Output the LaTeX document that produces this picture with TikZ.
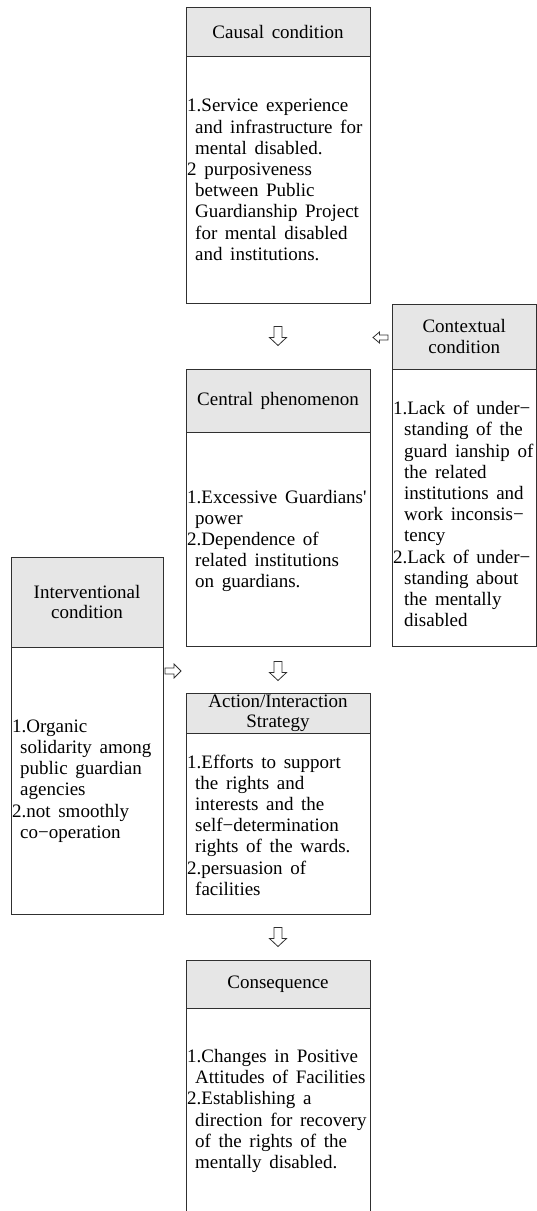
\documentclass[tikz,border=0pt]{standalone}
\usepackage{fontspec}
\setmainfont{Liberation Serif}[WordSpace=1.6]
\definecolor{boxc}{HTML}{303030}
\definecolor{hdrc}{HTML}{E6E6E6}
\newcommand{\ind}{\hspace*{8pt}}
\newcommand{\indw}{\hspace*{11pt}}
\begin{document}
\begin{tikzpicture}[x=1pt,y=-1pt,
  font=\fontsize{19}{21.2}\selectfont,
  hdr/.style={draw=boxc, fill=hdrc, line width=1pt, inner sep=0pt, align=center,
    font=\fontsize{19}{20.5}\selectfont},
  bodybox/.style={draw=boxc, line width=1pt, inner sep=0pt},
  txt/.style={inner sep=1pt, align=left, anchor=west},
  arrline/.style={draw=boxc, line width=0.8pt, fill=white, line join=miter},
  downarrow/.pic={\path[arrline] (-4,-9.5) -- (4,-9.5) -- (4,1.5) -- (8.5,1.5) -- (0,9.5) -- (-8.5,1.5) -- (-4,1.5) -- cycle;},
  leftarrow/.pic={\path[arrline] (7.5,-2.5) -- (7.5,2.5) -- (-1,2.5) -- (-1,5.5) -- (-7.5,0) -- (-1,-5.5) -- (-1,-2.5) -- cycle;},
  rightarrow/.pic={\path[arrline] (-8,-3) -- (-8,3) -- (1,3) -- (1,7) -- (8,0) -- (1,-7) -- (1,-3) -- cycle;}
]
\useasboundingbox (0,0) rectangle (537,1211);

% Causal condition
\node[hdr, minimum width=184pt, minimum height=49pt] (causalH) at (278,31.5) {Causal condition};
\node[bodybox, minimum width=184pt, minimum height=247pt] (causalB) at (278,179.5) {};
\node[txt] (causalT) at (186,180) {1.Service experience\\
\ind and infrastructure for\\
\ind mental disabled.\\
2 purposiveness\\
\ind between Public\\
\ind Guardianship Project\\
\ind for mental disabled\\
\ind and institutions.};

% Contextual condition
\node[hdr, minimum width=144.5pt, minimum height=65pt] (contextH) at (464.25,336.5) {Contextual\\condition};
\node[bodybox, minimum width=144.5pt, minimum height=277pt] (contextB) at (464.25,507.5) {};
\node[txt] (contextT) at (392,514) {1.Lack of under−\\
\indw standing of the\\
\indw guard ianship of\\
\indw the related\\
\indw institutions and\\
\indw work inconsis−\\
\indw tency\\
2.Lack of under−\\
\indw standing about\\
\indw the mentally\\
\indw disabled};

% Central phenomenon
\node[hdr, minimum width=184pt, minimum height=63pt] (centralH) at (278,400.5) {Central phenomenon};
\node[bodybox, minimum width=184pt, minimum height=214pt] (centralB) at (278,539) {};
\node[txt] (centralT) at (186,541) {1.Excessive Guardians\textquotesingle\\
\ind power\\
2.Dependence of\\
\ind related institutions\\
\ind on guardians.};

% Interventional condition
\node[hdr, minimum width=152pt, minimum height=90pt] (interH) at (87,602) {Interventional\\condition};
\node[bodybox, minimum width=152pt, minimum height=267pt] (interB) at (87,780.5) {};
\node[txt] (interT) at (11,781) {1.Organic\\
\ind solidarity among\\
\ind public guardian\\
\ind agencies\\
2.not smoothly\\
\ind co−operation};

% Action/Interaction Strategy
\node[hdr, minimum width=184pt, minimum height=40pt] (actionH) at (278,713) {Action/Interaction\\Strategy};
\node[bodybox, minimum width=184pt, minimum height=181pt] (actionB) at (278,823.5) {};
\node[txt] (actionT) at (186,825) {1.Efforts to support\\
\ind the rights and\\
\ind interests and the\\
\ind self−determination\\
\ind rights of the wards.\\
2.persuasion of\\
\ind facilities};

% Consequence
\node[hdr, minimum width=184pt, minimum height=48pt] (consH) at (278,984) {Consequence};
\node[bodybox, minimum width=184pt, minimum height=230pt] (consB) at (278,1123) {};
\node[txt] (consT) at (186,1111) {1.Changes in Positive\\
\ind Attitudes of Facilities\\
2.Establishing a\\
\ind direction for recovery\\
\ind of the rights of the\\
\ind mentally disabled.};

% block arrows between the boxes
\pic at (278,336) {downarrow};
\pic at (380.5,337.5) {leftarrow};
\pic at (173,671) {rightarrow};
\pic at (278,671) {downarrow};
\pic at (278,937) {downarrow};
\end{tikzpicture}
\end{document}
